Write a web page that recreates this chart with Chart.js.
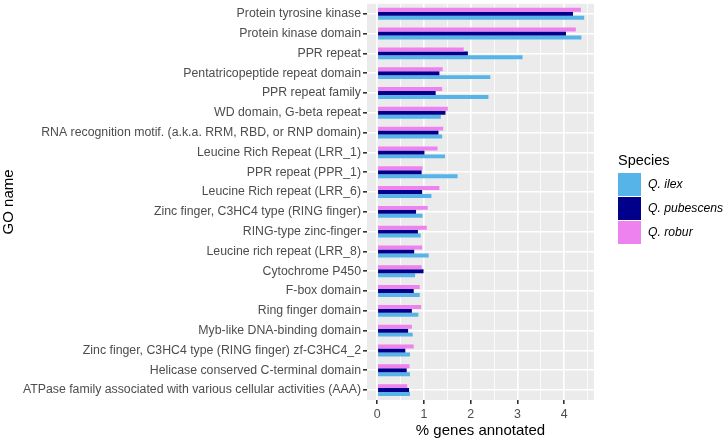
<!DOCTYPE html>
<html>
<head>
<meta charset="utf-8">
<script src="https://cdn.jsdelivr.net/npm/chart.js@4"></script>
<style>
  body { margin: 0; background: #fff; }
  #wrap { position: relative; width: 724px; height: 440px; }
  #legend { position: absolute; left: 618px; top: 152px; font-family: "Liberation Sans", Arial, sans-serif; white-space: nowrap; }
  #legend .title { font-size: 14.5px; color: #000; margin-bottom: 4px; }
  #legend .row { display: flex; align-items: center; height: 24px; }
  #legend .key { width: 23px; height: 23px; margin-right: 7px; flex: none; }
  #legend .lab { font-size: 12.2px; font-style: italic; color: #000; }
</style>
</head>
<body>
<div id="wrap">
  <canvas id="chart" width="724" height="440"></canvas>
  <div id="legend"></div>
</div>
<script>
// GO terms, top to bottom
const goNames = [
  "Protein tyrosine kinase",
  "Protein kinase domain",
  "PPR repeat",
  "Pentatricopeptide repeat domain",
  "PPR repeat family",
  "WD domain, G-beta repeat",
  "RNA recognition motif. (a.k.a. RRM, RBD, or RNP domain)",
  "Leucine Rich Repeat (LRR_1)",
  "PPR repeat (PPR_1)",
  "Leucine Rich repeat (LRR_6)",
  "Zinc finger, C3HC4 type (RING finger)",
  "RING-type zinc-finger",
  "Leucine rich repeat (LRR_8)",
  "Cytochrome P450",
  "F-box domain",
  "Ring finger domain",
  "Myb-like DNA-binding domain",
  "Zinc finger, C3HC4 type (RING finger) zf-C3HC4_2",
  "Helicase conserved C-terminal domain",
  "ATPase family associated with various cellular activities (AAA)"
];

// % genes annotated per species
const ilex = [4.43, 4.37, 3.11, 2.42, 2.38, 1.36, 1.39, 1.45, 1.72, 1.16, 0.97, 0.93, 1.10, 0.81, 0.91, 0.88, 0.76, 0.70, 0.70, 0.70];
const pubescens = [4.19, 4.04, 1.94, 1.33, 1.25, 1.46, 1.31, 1.01, 0.95, 0.96, 0.83, 0.87, 0.79, 0.99, 0.78, 0.74, 0.66, 0.60, 0.63, 0.68];
const robur = [4.36, 4.25, 1.85, 1.40, 1.39, 1.51, 1.41, 1.29, 0.97, 1.33, 1.08, 1.06, 0.96, 0.95, 0.91, 0.94, 0.74, 0.78, 0.69, 0.64];

const xTicks = [0, 0.5, 1, 1.5, 2, 2.5, 3, 3.5, 4, 4.5];

const species = [
  { name: "Q. ilex", color: "#56B4E9" },
  { name: "Q. pubescens", color: "#00008B" },
  { name: "Q. robur", color: "#EE82EE" }
];

const FONT = '"Liberation Sans", Arial, sans-serif';

// legend (ggplot style, on the right)
const legendEl = document.getElementById('legend');
legendEl.innerHTML = '<div class="title">Species</div>' + species.map(s =>
  `<div class="row"><div class="key" style="background:${s.color}"></div><span class="lab">${s.name}</span></div>`
).join('');

// grey panel background
const panelBackground = {
  id: 'panelBackground',
  beforeDraw: (chart) => {
    const {ctx, chartArea} = chart;
    ctx.save();
    ctx.fillStyle = '#EBEBEB';
    ctx.fillRect(chartArea.left, chartArea.top, chartArea.right - chartArea.left, chartArea.bottom - chartArea.top);
    ctx.restore();
  }
};

const isMajor = v => Math.abs(v - Math.round(v)) < 1e-6;

new Chart(document.getElementById('chart').getContext('2d'), {
  type: 'bar',
  data: {
    labels: goNames,
    datasets: [
      { label: 'Q. robur', data: robur, backgroundColor: species[2].color },
      { label: 'Q. pubescens', data: pubescens, backgroundColor: species[1].color },
      { label: 'Q. ilex', data: ilex, backgroundColor: species[0].color }
    ]
  },
  options: {
    indexAxis: 'y',
    responsive: false,
    animation: false,
    datasets: {
      bar: { categoryPercentage: 0.6, barPercentage: 1.0, borderWidth: 0 }
    },
    layout: { padding: { top: 2, right: 130, left: 0, bottom: 0 } },
    plugins: {
      legend: { display: false },
      tooltip: { enabled: false }
    },
    scales: {
      x: {
        type: 'linear',
        min: -0.22,
        max: 4.64,
        afterBuildTicks: (scale) => { scale.ticks = xTicks.map(v => ({ value: v })); },
        afterFit: (scale) => { scale.height = 40; },
        border: { display: false },
        grid: {
          color: '#FFFFFF',
          lineWidth: (c) => isMajor(c.tick.value) ? 1.6 : 0.8,
          tickColor: (c) => isMajor(c.tick.value) ? '#333333' : 'rgba(0,0,0,0)',
          tickLength: 4,
          drawOnChartArea: true
        },
        ticks: {
          autoSkip: false,
          maxRotation: 0,
          padding: 3,
          color: '#4D4D4D',
          font: { family: FONT, size: 12.4 },
          callback: (v) => isMajor(v) ? String(v) : ''
        },
        title: {
          display: true,
          text: '% genes annotated',
          color: '#000',
          font: { family: FONT, size: 15 },
          padding: { top: 2, bottom: 0 }
        }
      },
      y: {
        afterFit: (scale) => { scale.width = 367; },
        border: { display: false },
        grid: {
          offset: false,
          color: '#FFFFFF',
          lineWidth: 1.6,
          tickColor: '#333333',
          tickLength: 4
        },
        ticks: {
          autoSkip: false,
          padding: 2,
          color: '#4D4D4D',
          font: { family: FONT, size: 12.3, lineHeight: 0.3 }
        },
        title: {
          display: true,
          text: 'GO name',
          color: '#000',
          font: { family: FONT, size: 15 },
          padding: { top: 0, bottom: 0 }
        }
      }
    }
  },
  plugins: [panelBackground]
});
</script>
</body>
</html>
